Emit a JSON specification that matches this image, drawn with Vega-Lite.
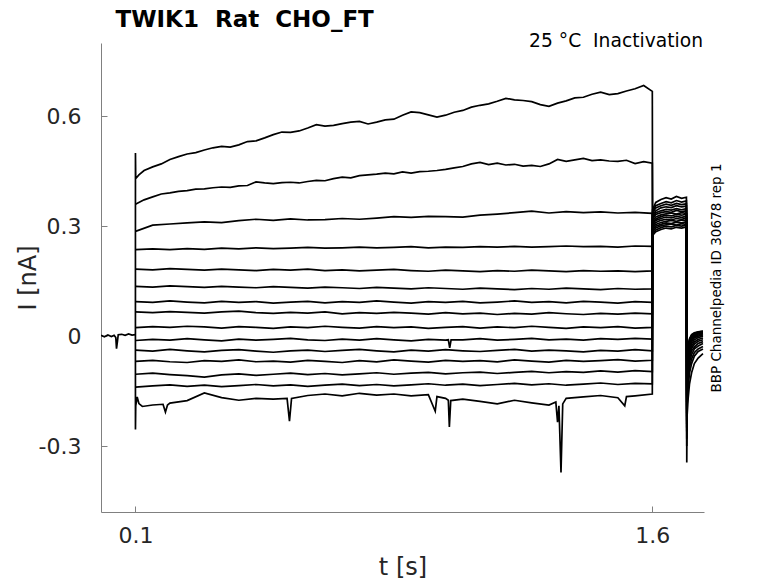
{
  "$schema": "https://vega.github.io/schema/vega-lite/v6.json",
  "width": 603,
  "height": 469,
  "autosize": "none",
  "padding": {"left": 101, "top": 43, "right": 74, "bottom": 71},
  "background": "white",
  "config": {
    "view": {"stroke": null},
    "font": "DejaVu Sans",
    "axis": {
      "grid": false,
      "domainColor": "#808080",
      "tickColor": "#808080",
      "labelColor": "#262626",
      "titleColor": "#262626",
      "labelFont": "DejaVu Sans",
      "titleFont": "DejaVu Sans",
      "titleFontWeight": "normal"
    }
  },
  "datasets": {
    "traces": [
      {"s":0,"t":0.0,"i":0.002},{"s":0,"t":0.01,"i":-0.002},{"s":0,"t":0.02,"i":0.003},{"s":0,"t":0.03,"i":-0.001},{"s":0,"t":0.038,"i":0.002},{"s":0,"t":0.043,"i":-0.004},{"s":0,"t":0.045,"i":-0.034},{"s":0,"t":0.048,"i":-0.012},{"s":0,"t":0.05,"i":0.004},{"s":0,"t":0.06,"i":0.005},{"s":0,"t":0.07,"i":0.002},{"s":0,"t":0.08,"i":0.006},{"s":0,"t":0.09,"i":0.003},{"s":0,"t":0.0999,"i":0.004},

      {"s":1,"t":0.0999,"i":0.003},{"s":1,"t":0.1,"i":0.5},{"s":1,"t":0.1008,"i":0.43},{"s":1,"t":0.11,"i":0.44},{"s":1,"t":0.125,"i":0.452},{"s":1,"t":0.15,"i":0.462},{"s":1,"t":0.175,"i":0.47},{"s":1,"t":0.2,"i":0.482},{"s":1,"t":0.225,"i":0.49},{"s":1,"t":0.25,"i":0.497},{"s":1,"t":0.275,"i":0.501},{"s":1,"t":0.3,"i":0.508},{"s":1,"t":0.325,"i":0.514},{"s":1,"t":0.35,"i":0.518},{"s":1,"t":0.375,"i":0.516},{"s":1,"t":0.4,"i":0.522},{"s":1,"t":0.425,"i":0.531},{"s":1,"t":0.45,"i":0.533},{"s":1,"t":0.475,"i":0.541},{"s":1,"t":0.5,"i":0.55},{"s":1,"t":0.525,"i":0.557},{"s":1,"t":0.55,"i":0.556},{"s":1,"t":0.575,"i":0.56},{"s":1,"t":0.6,"i":0.568},{"s":1,"t":0.625,"i":0.577},{"s":1,"t":0.65,"i":0.573},{"s":1,"t":0.675,"i":0.575},{"s":1,"t":0.7,"i":0.58},{"s":1,"t":0.725,"i":0.584},{"s":1,"t":0.75,"i":0.586},{"s":1,"t":0.775,"i":0.579},{"s":1,"t":0.8,"i":0.584},{"s":1,"t":0.825,"i":0.59},{"s":1,"t":0.85,"i":0.592},{"s":1,"t":0.875,"i":0.603},{"s":1,"t":0.9,"i":0.612},{"s":1,"t":0.925,"i":0.61},{"s":1,"t":0.95,"i":0.604},{"s":1,"t":0.975,"i":0.598},{"s":1,"t":1.0,"i":0.603},{"s":1,"t":1.025,"i":0.611},{"s":1,"t":1.05,"i":0.616},{"s":1,"t":1.075,"i":0.625},{"s":1,"t":1.1,"i":0.63},{"s":1,"t":1.125,"i":0.634},{"s":1,"t":1.15,"i":0.641},{"s":1,"t":1.175,"i":0.649},{"s":1,"t":1.2,"i":0.645},{"s":1,"t":1.225,"i":0.643},{"s":1,"t":1.25,"i":0.64},{"s":1,"t":1.275,"i":0.632},{"s":1,"t":1.3,"i":0.627},{"s":1,"t":1.325,"i":0.636},{"s":1,"t":1.35,"i":0.642},{"s":1,"t":1.375,"i":0.65},{"s":1,"t":1.4,"i":0.652},{"s":1,"t":1.425,"i":0.66},{"s":1,"t":1.45,"i":0.666},{"s":1,"t":1.475,"i":0.659},{"s":1,"t":1.5,"i":0.662},{"s":1,"t":1.525,"i":0.669},{"s":1,"t":1.55,"i":0.675},{"s":1,"t":1.575,"i":0.684},{"s":1,"t":1.6,"i":0.668},
      {"s":1,"t":1.6008,"i":0.275},{"s":1,"t":1.61,"i":0.285},{"s":1,"t":1.625,"i":0.291},{"s":1,"t":1.64,"i":0.295},{"s":1,"t":1.655,"i":0.293},{"s":1,"t":1.67,"i":0.297},{"s":1,"t":1.685,"i":0.295},{"s":1,"t":1.699,"i":0.298},
      {"s":1,"t":1.7,"i":-0.15},{"s":1,"t":1.7008,"i":-0.065},{"s":1,"t":1.704,"i":-0.028},{"s":1,"t":1.708,"i":-0.007},{"s":1,"t":1.714,"i":0.004},{"s":1,"t":1.722,"i":0.009},{"s":1,"t":1.733,"i":0.012},{"s":1,"t":1.747,"i":0.014},

      {"s":2,"t":0.1,"i":0.36},{"s":2,"t":0.125,"i":0.372},{"s":2,"t":0.15,"i":0.38},{"s":2,"t":0.175,"i":0.388},{"s":2,"t":0.2,"i":0.391},{"s":2,"t":0.225,"i":0.395},{"s":2,"t":0.25,"i":0.397},{"s":2,"t":0.275,"i":0.401},{"s":2,"t":0.3,"i":0.402},{"s":2,"t":0.325,"i":0.405},{"s":2,"t":0.35,"i":0.407},{"s":2,"t":0.375,"i":0.406},{"s":2,"t":0.4,"i":0.41},{"s":2,"t":0.425,"i":0.411},{"s":2,"t":0.45,"i":0.421},{"s":2,"t":0.475,"i":0.418},{"s":2,"t":0.5,"i":0.416},{"s":2,"t":0.525,"i":0.419},{"s":2,"t":0.55,"i":0.42},{"s":2,"t":0.575,"i":0.418},{"s":2,"t":0.6,"i":0.422},{"s":2,"t":0.625,"i":0.425},{"s":2,"t":0.65,"i":0.424},{"s":2,"t":0.675,"i":0.43},{"s":2,"t":0.7,"i":0.434},{"s":2,"t":0.725,"i":0.432},{"s":2,"t":0.75,"i":0.438},{"s":2,"t":0.775,"i":0.44},{"s":2,"t":0.8,"i":0.442},{"s":2,"t":0.825,"i":0.445},{"s":2,"t":0.85,"i":0.443},{"s":2,"t":0.875,"i":0.448},{"s":2,"t":0.9,"i":0.445},{"s":2,"t":0.925,"i":0.449},{"s":2,"t":0.95,"i":0.45},{"s":2,"t":0.975,"i":0.452},{"s":2,"t":1.0,"i":0.455},{"s":2,"t":1.025,"i":0.459},{"s":2,"t":1.05,"i":0.463},{"s":2,"t":1.075,"i":0.47},{"s":2,"t":1.1,"i":0.474},{"s":2,"t":1.125,"i":0.468},{"s":2,"t":1.15,"i":0.472},{"s":2,"t":1.175,"i":0.467},{"s":2,"t":1.2,"i":0.469},{"s":2,"t":1.225,"i":0.464},{"s":2,"t":1.25,"i":0.466},{"s":2,"t":1.275,"i":0.463},{"s":2,"t":1.3,"i":0.47},{"s":2,"t":1.325,"i":0.482},{"s":2,"t":1.35,"i":0.477},{"s":2,"t":1.375,"i":0.481},{"s":2,"t":1.4,"i":0.485},{"s":2,"t":1.425,"i":0.479},{"s":2,"t":1.45,"i":0.481},{"s":2,"t":1.475,"i":0.478},{"s":2,"t":1.5,"i":0.477},{"s":2,"t":1.525,"i":0.48},{"s":2,"t":1.55,"i":0.471},{"s":2,"t":1.575,"i":0.476},{"s":2,"t":1.6,"i":0.472},
      {"s":2,"t":1.6008,"i":0.28},{"s":2,"t":1.61,"i":0.29},{"s":2,"t":1.625,"i":0.296},{"s":2,"t":1.64,"i":0.3},{"s":2,"t":1.655,"i":0.298},{"s":2,"t":1.67,"i":0.302},{"s":2,"t":1.685,"i":0.3},{"s":2,"t":1.699,"i":0.303},
      {"s":2,"t":1.7,"i":-0.16},{"s":2,"t":1.7008,"i":-0.07},{"s":2,"t":1.704,"i":-0.03},{"s":2,"t":1.708,"i":-0.009},{"s":2,"t":1.714,"i":0.002},{"s":2,"t":1.722,"i":0.008},{"s":2,"t":1.733,"i":0.011},{"s":2,"t":1.747,"i":0.013},

      {"s":3,"t":0.1,"i":0.286},{"s":3,"t":0.15,"i":0.303},{"s":3,"t":0.2,"i":0.306},{"s":3,"t":0.25,"i":0.309},{"s":3,"t":0.3,"i":0.312},{"s":3,"t":0.35,"i":0.31},{"s":3,"t":0.4,"i":0.315},{"s":3,"t":0.45,"i":0.319},{"s":3,"t":0.5,"i":0.316},{"s":3,"t":0.55,"i":0.32},{"s":3,"t":0.6,"i":0.317},{"s":3,"t":0.65,"i":0.318},{"s":3,"t":0.7,"i":0.321},{"s":3,"t":0.75,"i":0.319},{"s":3,"t":0.8,"i":0.322},{"s":3,"t":0.85,"i":0.326},{"s":3,"t":0.9,"i":0.324},{"s":3,"t":0.95,"i":0.327},{"s":3,"t":1.0,"i":0.326},{"s":3,"t":1.05,"i":0.325},{"s":3,"t":1.1,"i":0.33},{"s":3,"t":1.15,"i":0.333},{"s":3,"t":1.2,"i":0.337},{"s":3,"t":1.25,"i":0.341},{"s":3,"t":1.3,"i":0.336},{"s":3,"t":1.35,"i":0.34},{"s":3,"t":1.4,"i":0.337},{"s":3,"t":1.45,"i":0.339},{"s":3,"t":1.5,"i":0.336},{"s":3,"t":1.55,"i":0.338},{"s":3,"t":1.6,"i":0.335},
      {"s":3,"t":1.6008,"i":0.285},{"s":3,"t":1.61,"i":0.295},{"s":3,"t":1.625,"i":0.301},{"s":3,"t":1.64,"i":0.304},{"s":3,"t":1.655,"i":0.306},{"s":3,"t":1.67,"i":0.303},{"s":3,"t":1.685,"i":0.307},{"s":3,"t":1.699,"i":0.305},
      {"s":3,"t":1.7,"i":-0.17},{"s":3,"t":1.7008,"i":-0.075},{"s":3,"t":1.704,"i":-0.032},{"s":3,"t":1.708,"i":-0.011},{"s":3,"t":1.714,"i":0.0},{"s":3,"t":1.722,"i":0.006},{"s":3,"t":1.733,"i":0.01},{"s":3,"t":1.747,"i":0.012},

      {"s":4,"t":0.1,"i":0.236},{"s":4,"t":0.15,"i":0.238},{"s":4,"t":0.2,"i":0.236},{"s":4,"t":0.25,"i":0.239},{"s":4,"t":0.3,"i":0.237},{"s":4,"t":0.35,"i":0.24},{"s":4,"t":0.4,"i":0.238},{"s":4,"t":0.45,"i":0.241},{"s":4,"t":0.5,"i":0.239},{"s":4,"t":0.55,"i":0.24},{"s":4,"t":0.6,"i":0.242},{"s":4,"t":0.65,"i":0.24},{"s":4,"t":0.7,"i":0.241},{"s":4,"t":0.75,"i":0.243},{"s":4,"t":0.8,"i":0.241},{"s":4,"t":0.85,"i":0.242},{"s":4,"t":0.9,"i":0.244},{"s":4,"t":0.95,"i":0.241},{"s":4,"t":1.0,"i":0.243},{"s":4,"t":1.05,"i":0.242},{"s":4,"t":1.1,"i":0.244},{"s":4,"t":1.15,"i":0.243},{"s":4,"t":1.2,"i":0.245},{"s":4,"t":1.25,"i":0.243},{"s":4,"t":1.3,"i":0.244},{"s":4,"t":1.35,"i":0.246},{"s":4,"t":1.4,"i":0.244},{"s":4,"t":1.45,"i":0.245},{"s":4,"t":1.5,"i":0.243},{"s":4,"t":1.55,"i":0.246},{"s":4,"t":1.6,"i":0.245},
      {"s":4,"t":1.6008,"i":0.29},{"s":4,"t":1.61,"i":0.3},{"s":4,"t":1.625,"i":0.305},{"s":4,"t":1.64,"i":0.309},{"s":4,"t":1.655,"i":0.307},{"s":4,"t":1.67,"i":0.311},{"s":4,"t":1.685,"i":0.309},{"s":4,"t":1.699,"i":0.312},
      {"s":4,"t":1.7,"i":-0.18},{"s":4,"t":1.7008,"i":-0.08},{"s":4,"t":1.704,"i":-0.036},{"s":4,"t":1.708,"i":-0.014},{"s":4,"t":1.714,"i":-0.003},{"s":4,"t":1.722,"i":0.004},{"s":4,"t":1.733,"i":0.008},{"s":4,"t":1.747,"i":0.01},

      {"s":5,"t":0.1,"i":0.183},{"s":5,"t":0.15,"i":0.181},{"s":5,"t":0.2,"i":0.184},{"s":5,"t":0.25,"i":0.182},{"s":5,"t":0.3,"i":0.18},{"s":5,"t":0.35,"i":0.183},{"s":5,"t":0.4,"i":0.181},{"s":5,"t":0.45,"i":0.179},{"s":5,"t":0.5,"i":0.182},{"s":5,"t":0.55,"i":0.18},{"s":5,"t":0.6,"i":0.183},{"s":5,"t":0.65,"i":0.179},{"s":5,"t":0.7,"i":0.181},{"s":5,"t":0.75,"i":0.178},{"s":5,"t":0.8,"i":0.18},{"s":5,"t":0.85,"i":0.182},{"s":5,"t":0.9,"i":0.179},{"s":5,"t":0.95,"i":0.177},{"s":5,"t":1.0,"i":0.18},{"s":5,"t":1.05,"i":0.178},{"s":5,"t":1.1,"i":0.176},{"s":5,"t":1.15,"i":0.179},{"s":5,"t":1.2,"i":0.177},{"s":5,"t":1.25,"i":0.18},{"s":5,"t":1.3,"i":0.178},{"s":5,"t":1.35,"i":0.176},{"s":5,"t":1.4,"i":0.179},{"s":5,"t":1.45,"i":0.177},{"s":5,"t":1.5,"i":0.178},{"s":5,"t":1.55,"i":0.176},{"s":5,"t":1.6,"i":0.178},
      {"s":5,"t":1.6008,"i":0.295},{"s":5,"t":1.61,"i":0.305},{"s":5,"t":1.625,"i":0.31},{"s":5,"t":1.64,"i":0.313},{"s":5,"t":1.655,"i":0.316},{"s":5,"t":1.67,"i":0.313},{"s":5,"t":1.685,"i":0.317},{"s":5,"t":1.699,"i":0.315},
      {"s":5,"t":1.7,"i":-0.19},{"s":5,"t":1.7008,"i":-0.085},{"s":5,"t":1.704,"i":-0.04},{"s":5,"t":1.708,"i":-0.018},{"s":5,"t":1.714,"i":-0.006},{"s":5,"t":1.722,"i":0.001},{"s":5,"t":1.733,"i":0.006},{"s":5,"t":1.747,"i":0.008},

      {"s":6,"t":0.1,"i":0.136},{"s":6,"t":0.15,"i":0.134},{"s":6,"t":0.2,"i":0.137},{"s":6,"t":0.25,"i":0.135},{"s":6,"t":0.3,"i":0.133},{"s":6,"t":0.35,"i":0.136},{"s":6,"t":0.4,"i":0.134},{"s":6,"t":0.45,"i":0.132},{"s":6,"t":0.5,"i":0.135},{"s":6,"t":0.55,"i":0.133},{"s":6,"t":0.6,"i":0.131},{"s":6,"t":0.65,"i":0.134},{"s":6,"t":0.7,"i":0.132},{"s":6,"t":0.75,"i":0.13},{"s":6,"t":0.8,"i":0.133},{"s":6,"t":0.85,"i":0.131},{"s":6,"t":0.9,"i":0.129},{"s":6,"t":0.95,"i":0.132},{"s":6,"t":1.0,"i":0.13},{"s":6,"t":1.05,"i":0.128},{"s":6,"t":1.1,"i":0.131},{"s":6,"t":1.15,"i":0.129},{"s":6,"t":1.2,"i":0.127},{"s":6,"t":1.25,"i":0.13},{"s":6,"t":1.3,"i":0.128},{"s":6,"t":1.35,"i":0.131},{"s":6,"t":1.4,"i":0.129},{"s":6,"t":1.45,"i":0.127},{"s":6,"t":1.5,"i":0.13},{"s":6,"t":1.55,"i":0.128},{"s":6,"t":1.6,"i":0.129},
      {"s":6,"t":1.6008,"i":0.3},{"s":6,"t":1.61,"i":0.31},{"s":6,"t":1.625,"i":0.316},{"s":6,"t":1.64,"i":0.319},{"s":6,"t":1.655,"i":0.317},{"s":6,"t":1.67,"i":0.321},{"s":6,"t":1.685,"i":0.319},{"s":6,"t":1.699,"i":0.322},
      {"s":6,"t":1.7,"i":-0.2},{"s":6,"t":1.7008,"i":-0.09},{"s":6,"t":1.704,"i":-0.045},{"s":6,"t":1.708,"i":-0.022},{"s":6,"t":1.714,"i":-0.01},{"s":6,"t":1.722,"i":-0.002},{"s":6,"t":1.733,"i":0.003},{"s":6,"t":1.747,"i":0.006},

      {"s":7,"t":0.1,"i":0.094},{"s":7,"t":0.15,"i":0.092},{"s":7,"t":0.2,"i":0.096},{"s":7,"t":0.25,"i":0.093},{"s":7,"t":0.3,"i":0.091},{"s":7,"t":0.35,"i":0.095},{"s":7,"t":0.4,"i":0.092},{"s":7,"t":0.45,"i":0.094},{"s":7,"t":0.5,"i":0.09},{"s":7,"t":0.55,"i":0.093},{"s":7,"t":0.6,"i":0.095},{"s":7,"t":0.65,"i":0.091},{"s":7,"t":0.7,"i":0.094},{"s":7,"t":0.75,"i":0.092},{"s":7,"t":0.8,"i":0.096},{"s":7,"t":0.85,"i":0.093},{"s":7,"t":0.9,"i":0.09},{"s":7,"t":0.95,"i":0.094},{"s":7,"t":1.0,"i":0.092},{"s":7,"t":1.05,"i":0.095},{"s":7,"t":1.1,"i":0.091},{"s":7,"t":1.15,"i":0.093},{"s":7,"t":1.2,"i":0.096},{"s":7,"t":1.25,"i":0.092},{"s":7,"t":1.3,"i":0.094},{"s":7,"t":1.35,"i":0.091},{"s":7,"t":1.4,"i":0.095},{"s":7,"t":1.45,"i":0.093},{"s":7,"t":1.5,"i":0.09},{"s":7,"t":1.55,"i":0.094},{"s":7,"t":1.6,"i":0.092},
      {"s":7,"t":1.6008,"i":0.305},{"s":7,"t":1.61,"i":0.316},{"s":7,"t":1.625,"i":0.321},{"s":7,"t":1.64,"i":0.325},{"s":7,"t":1.655,"i":0.323},{"s":7,"t":1.67,"i":0.327},{"s":7,"t":1.685,"i":0.324},{"s":7,"t":1.699,"i":0.327},
      {"s":7,"t":1.7,"i":-0.21},{"s":7,"t":1.7008,"i":-0.1},{"s":7,"t":1.704,"i":-0.052},{"s":7,"t":1.708,"i":-0.028},{"s":7,"t":1.714,"i":-0.014},{"s":7,"t":1.722,"i":-0.005},{"s":7,"t":1.733,"i":0.0},{"s":7,"t":1.747,"i":0.003},

      {"s":8,"t":0.1,"i":0.066},{"s":8,"t":0.15,"i":0.064},{"s":8,"t":0.2,"i":0.067},{"s":8,"t":0.25,"i":0.065},{"s":8,"t":0.3,"i":0.063},{"s":8,"t":0.35,"i":0.066},{"s":8,"t":0.4,"i":0.068},{"s":8,"t":0.45,"i":0.064},{"s":8,"t":0.5,"i":0.062},{"s":8,"t":0.55,"i":0.065},{"s":8,"t":0.6,"i":0.063},{"s":8,"t":0.65,"i":0.066},{"s":8,"t":0.7,"i":0.061},{"s":8,"t":0.75,"i":0.064},{"s":8,"t":0.8,"i":0.062},{"s":8,"t":0.85,"i":0.065},{"s":8,"t":0.9,"i":0.063},{"s":8,"t":0.95,"i":0.06},{"s":8,"t":1.0,"i":0.064},{"s":8,"t":1.05,"i":0.061},{"s":8,"t":1.1,"i":0.063},{"s":8,"t":1.15,"i":0.059},{"s":8,"t":1.2,"i":0.062},{"s":8,"t":1.25,"i":0.06},{"s":8,"t":1.3,"i":0.064},{"s":8,"t":1.35,"i":0.061},{"s":8,"t":1.4,"i":0.059},{"s":8,"t":1.45,"i":0.062},{"s":8,"t":1.5,"i":0.06},{"s":8,"t":1.55,"i":0.063},{"s":8,"t":1.6,"i":0.061},
      {"s":8,"t":1.6008,"i":0.31},{"s":8,"t":1.61,"i":0.32},{"s":8,"t":1.625,"i":0.326},{"s":8,"t":1.64,"i":0.33},{"s":8,"t":1.655,"i":0.328},{"s":8,"t":1.67,"i":0.332},{"s":8,"t":1.685,"i":0.33},{"s":8,"t":1.699,"i":0.333},
      {"s":8,"t":1.7,"i":-0.22},{"s":8,"t":1.7008,"i":-0.11},{"s":8,"t":1.704,"i":-0.06},{"s":8,"t":1.708,"i":-0.035},{"s":8,"t":1.714,"i":-0.02},{"s":8,"t":1.722,"i":-0.01},{"s":8,"t":1.733,"i":-0.004},{"s":8,"t":1.747,"i":0.0},

      {"s":9,"t":0.1,"i":0.023},{"s":9,"t":0.15,"i":0.026},{"s":9,"t":0.2,"i":0.024},{"s":9,"t":0.25,"i":0.027},{"s":9,"t":0.3,"i":0.025},{"s":9,"t":0.35,"i":0.022},{"s":9,"t":0.4,"i":0.026},{"s":9,"t":0.45,"i":0.024},{"s":9,"t":0.5,"i":0.021},{"s":9,"t":0.55,"i":0.025},{"s":9,"t":0.6,"i":0.023},{"s":9,"t":0.65,"i":0.027},{"s":9,"t":0.7,"i":0.024},{"s":9,"t":0.75,"i":0.022},{"s":9,"t":0.8,"i":0.026},{"s":9,"t":0.85,"i":0.023},{"s":9,"t":0.9,"i":0.025},{"s":9,"t":0.95,"i":0.021},{"s":9,"t":1.0,"i":0.024},{"s":9,"t":1.05,"i":0.026},{"s":9,"t":1.1,"i":0.022},{"s":9,"t":1.15,"i":0.025},{"s":9,"t":1.2,"i":0.023},{"s":9,"t":1.25,"i":0.027},{"s":9,"t":1.3,"i":0.024},{"s":9,"t":1.35,"i":0.021},{"s":9,"t":1.4,"i":0.025},{"s":9,"t":1.45,"i":0.023},{"s":9,"t":1.5,"i":0.026},{"s":9,"t":1.55,"i":0.022},{"s":9,"t":1.6,"i":0.024},
      {"s":9,"t":1.6008,"i":0.315},{"s":9,"t":1.61,"i":0.325},{"s":9,"t":1.625,"i":0.331},{"s":9,"t":1.64,"i":0.334},{"s":9,"t":1.655,"i":0.336},{"s":9,"t":1.67,"i":0.333},{"s":9,"t":1.685,"i":0.337},{"s":9,"t":1.699,"i":0.335},
      {"s":9,"t":1.7,"i":-0.23},{"s":9,"t":1.7008,"i":-0.12},{"s":9,"t":1.704,"i":-0.07},{"s":9,"t":1.708,"i":-0.042},{"s":9,"t":1.714,"i":-0.027},{"s":9,"t":1.722,"i":-0.016},{"s":9,"t":1.733,"i":-0.009},{"s":9,"t":1.747,"i":-0.005},

      {"s":10,"t":0.1,"i":-0.012},{"s":10,"t":0.15,"i":-0.009},{"s":10,"t":0.2,"i":-0.011},{"s":10,"t":0.25,"i":-0.007},{"s":10,"t":0.3,"i":-0.01},{"s":10,"t":0.35,"i":-0.013},{"s":10,"t":0.4,"i":-0.008},{"s":10,"t":0.45,"i":-0.011},{"s":10,"t":0.5,"i":-0.009},{"s":10,"t":0.55,"i":-0.006},{"s":10,"t":0.6,"i":-0.01},{"s":10,"t":0.65,"i":-0.012},{"s":10,"t":0.7,"i":-0.008},{"s":10,"t":0.75,"i":-0.011},{"s":10,"t":0.8,"i":-0.007},{"s":10,"t":0.85,"i":-0.01},{"s":10,"t":0.9,"i":-0.013},{"s":10,"t":0.95,"i":-0.009},{"s":10,"t":1.0,"i":-0.011},{"s":10,"t":1.008,"i":-0.01},{"s":10,"t":1.012,"i":-0.032},{"s":10,"t":1.016,"i":-0.01},{"s":10,"t":1.05,"i":-0.01},{"s":10,"t":1.1,"i":-0.007},{"s":10,"t":1.15,"i":-0.011},{"s":10,"t":1.2,"i":-0.009},{"s":10,"t":1.25,"i":-0.006},{"s":10,"t":1.3,"i":-0.01},{"s":10,"t":1.35,"i":-0.008},{"s":10,"t":1.4,"i":-0.011},{"s":10,"t":1.45,"i":-0.007},{"s":10,"t":1.5,"i":-0.009},{"s":10,"t":1.55,"i":-0.006},{"s":10,"t":1.6,"i":-0.008},
      {"s":10,"t":1.6008,"i":0.32},{"s":10,"t":1.61,"i":0.332},{"s":10,"t":1.625,"i":0.337},{"s":10,"t":1.64,"i":0.34},{"s":10,"t":1.655,"i":0.338},{"s":10,"t":1.67,"i":0.343},{"s":10,"t":1.685,"i":0.34},{"s":10,"t":1.699,"i":0.342},
      {"s":10,"t":1.7,"i":-0.24},{"s":10,"t":1.7008,"i":-0.13},{"s":10,"t":1.704,"i":-0.08},{"s":10,"t":1.708,"i":-0.05},{"s":10,"t":1.714,"i":-0.033},{"s":10,"t":1.722,"i":-0.022},{"s":10,"t":1.733,"i":-0.014},{"s":10,"t":1.747,"i":-0.01},

      {"s":11,"t":0.1,"i":-0.038},{"s":11,"t":0.15,"i":-0.041},{"s":11,"t":0.2,"i":-0.036},{"s":11,"t":0.25,"i":-0.04},{"s":11,"t":0.3,"i":-0.043},{"s":11,"t":0.35,"i":-0.039},{"s":11,"t":0.4,"i":-0.037},{"s":11,"t":0.45,"i":-0.041},{"s":11,"t":0.5,"i":-0.044},{"s":11,"t":0.55,"i":-0.04},{"s":11,"t":0.6,"i":-0.038},{"s":11,"t":0.65,"i":-0.042},{"s":11,"t":0.7,"i":-0.039},{"s":11,"t":0.75,"i":-0.036},{"s":11,"t":0.8,"i":-0.04},{"s":11,"t":0.85,"i":-0.043},{"s":11,"t":0.9,"i":-0.038},{"s":11,"t":0.95,"i":-0.041},{"s":11,"t":1.0,"i":-0.037},{"s":11,"t":1.05,"i":-0.04},{"s":11,"t":1.1,"i":-0.042},{"s":11,"t":1.15,"i":-0.039},{"s":11,"t":1.2,"i":-0.036},{"s":11,"t":1.25,"i":-0.041},{"s":11,"t":1.3,"i":-0.038},{"s":11,"t":1.35,"i":-0.04},{"s":11,"t":1.4,"i":-0.043},{"s":11,"t":1.45,"i":-0.039},{"s":11,"t":1.5,"i":-0.041},{"s":11,"t":1.55,"i":-0.037},{"s":11,"t":1.6,"i":-0.04},
      {"s":11,"t":1.6008,"i":0.325},{"s":11,"t":1.61,"i":0.337},{"s":11,"t":1.625,"i":0.342},{"s":11,"t":1.64,"i":0.346},{"s":11,"t":1.655,"i":0.344},{"s":11,"t":1.67,"i":0.348},{"s":11,"t":1.685,"i":0.345},{"s":11,"t":1.699,"i":0.348},
      {"s":11,"t":1.7,"i":-0.25},{"s":11,"t":1.7008,"i":-0.14},{"s":11,"t":1.704,"i":-0.09},{"s":11,"t":1.708,"i":-0.06},{"s":11,"t":1.714,"i":-0.04},{"s":11,"t":1.722,"i":-0.03},{"s":11,"t":1.733,"i":-0.02},{"s":11,"t":1.747,"i":-0.015},

      {"s":12,"t":0.1,"i":-0.069},{"s":12,"t":0.15,"i":-0.066},{"s":12,"t":0.2,"i":-0.07},{"s":12,"t":0.25,"i":-0.072},{"s":12,"t":0.3,"i":-0.067},{"s":12,"t":0.35,"i":-0.069},{"s":12,"t":0.4,"i":-0.065},{"s":12,"t":0.45,"i":-0.07},{"s":12,"t":0.5,"i":-0.068},{"s":12,"t":0.55,"i":-0.071},{"s":12,"t":0.6,"i":-0.066},{"s":12,"t":0.65,"i":-0.069},{"s":12,"t":0.7,"i":-0.072},{"s":12,"t":0.75,"i":-0.067},{"s":12,"t":0.8,"i":-0.07},{"s":12,"t":0.85,"i":-0.065},{"s":12,"t":0.9,"i":-0.068},{"s":12,"t":0.95,"i":-0.071},{"s":12,"t":1.0,"i":-0.066},{"s":12,"t":1.05,"i":-0.069},{"s":12,"t":1.1,"i":-0.067},{"s":12,"t":1.15,"i":-0.07},{"s":12,"t":1.2,"i":-0.065},{"s":12,"t":1.25,"i":-0.068},{"s":12,"t":1.3,"i":-0.071},{"s":12,"t":1.35,"i":-0.066},{"s":12,"t":1.4,"i":-0.069},{"s":12,"t":1.45,"i":-0.067},{"s":12,"t":1.5,"i":-0.064},{"s":12,"t":1.55,"i":-0.068},{"s":12,"t":1.6,"i":-0.066},
      {"s":12,"t":1.6008,"i":0.33},{"s":12,"t":1.61,"i":0.342},{"s":12,"t":1.625,"i":0.35},{"s":12,"t":1.64,"i":0.353},{"s":12,"t":1.655,"i":0.351},{"s":12,"t":1.67,"i":0.356},{"s":12,"t":1.685,"i":0.353},{"s":12,"t":1.699,"i":0.355},
      {"s":12,"t":1.7,"i":-0.26},{"s":12,"t":1.7008,"i":-0.15},{"s":12,"t":1.704,"i":-0.1},{"s":12,"t":1.708,"i":-0.07},{"s":12,"t":1.714,"i":-0.05},{"s":12,"t":1.722,"i":-0.035},{"s":12,"t":1.733,"i":-0.027},{"s":12,"t":1.747,"i":-0.02},

      {"s":13,"t":0.1,"i":-0.104},{"s":13,"t":0.15,"i":-0.101},{"s":13,"t":0.2,"i":-0.105},{"s":13,"t":0.25,"i":-0.108},{"s":13,"t":0.3,"i":-0.112},{"s":13,"t":0.35,"i":-0.106},{"s":13,"t":0.4,"i":-0.103},{"s":13,"t":0.45,"i":-0.107},{"s":13,"t":0.5,"i":-0.104},{"s":13,"t":0.55,"i":-0.101},{"s":13,"t":0.6,"i":-0.105},{"s":13,"t":0.65,"i":-0.102},{"s":13,"t":0.7,"i":-0.106},{"s":13,"t":0.75,"i":-0.103},{"s":13,"t":0.8,"i":-0.1},{"s":13,"t":0.85,"i":-0.104},{"s":13,"t":0.9,"i":-0.101},{"s":13,"t":0.95,"i":-0.099},{"s":13,"t":1.0,"i":-0.103},{"s":13,"t":1.05,"i":-0.1},{"s":13,"t":1.1,"i":-0.098},{"s":13,"t":1.15,"i":-0.102},{"s":13,"t":1.2,"i":-0.099},{"s":13,"t":1.25,"i":-0.096},{"s":13,"t":1.3,"i":-0.1},{"s":13,"t":1.35,"i":-0.097},{"s":13,"t":1.4,"i":-0.099},{"s":13,"t":1.45,"i":-0.095},{"s":13,"t":1.5,"i":-0.098},{"s":13,"t":1.55,"i":-0.094},{"s":13,"t":1.6,"i":-0.097},
      {"s":13,"t":1.6008,"i":0.335},{"s":13,"t":1.61,"i":0.35},{"s":13,"t":1.625,"i":0.356},{"s":13,"t":1.64,"i":0.36},{"s":13,"t":1.655,"i":0.357},{"s":13,"t":1.67,"i":0.362},{"s":13,"t":1.685,"i":0.359},{"s":13,"t":1.699,"i":0.361},
      {"s":13,"t":1.7,"i":-0.28},{"s":13,"t":1.7008,"i":-0.17},{"s":13,"t":1.704,"i":-0.12},{"s":13,"t":1.708,"i":-0.085},{"s":13,"t":1.714,"i":-0.062},{"s":13,"t":1.722,"i":-0.045},{"s":13,"t":1.733,"i":-0.035},{"s":13,"t":1.747,"i":-0.028},

      {"s":14,"t":0.1,"i":-0.139},{"s":14,"t":0.15,"i":-0.136},{"s":14,"t":0.2,"i":-0.133},{"s":14,"t":0.25,"i":-0.137},{"s":14,"t":0.3,"i":-0.134},{"s":14,"t":0.35,"i":-0.138},{"s":14,"t":0.4,"i":-0.135},{"s":14,"t":0.45,"i":-0.132},{"s":14,"t":0.5,"i":-0.136},{"s":14,"t":0.55,"i":-0.133},{"s":14,"t":0.6,"i":-0.137},{"s":14,"t":0.65,"i":-0.134},{"s":14,"t":0.7,"i":-0.131},{"s":14,"t":0.75,"i":-0.135},{"s":14,"t":0.8,"i":-0.132},{"s":14,"t":0.85,"i":-0.136},{"s":14,"t":0.9,"i":-0.133},{"s":14,"t":0.95,"i":-0.13},{"s":14,"t":1.0,"i":-0.134},{"s":14,"t":1.05,"i":-0.131},{"s":14,"t":1.1,"i":-0.135},{"s":14,"t":1.15,"i":-0.132},{"s":14,"t":1.2,"i":-0.129},{"s":14,"t":1.25,"i":-0.133},{"s":14,"t":1.3,"i":-0.13},{"s":14,"t":1.35,"i":-0.134},{"s":14,"t":1.4,"i":-0.131},{"s":14,"t":1.45,"i":-0.128},{"s":14,"t":1.5,"i":-0.132},{"s":14,"t":1.55,"i":-0.129},{"s":14,"t":1.6,"i":-0.13},
      {"s":14,"t":1.6008,"i":0.34},{"s":14,"t":1.61,"i":0.356},{"s":14,"t":1.625,"i":0.362},{"s":14,"t":1.64,"i":0.367},{"s":14,"t":1.655,"i":0.364},{"s":14,"t":1.67,"i":0.37},{"s":14,"t":1.685,"i":0.366},{"s":14,"t":1.699,"i":0.369},
      {"s":14,"t":1.7,"i":-0.3},{"s":14,"t":1.7008,"i":-0.19},{"s":14,"t":1.704,"i":-0.14},{"s":14,"t":1.708,"i":-0.1},{"s":14,"t":1.714,"i":-0.075},{"s":14,"t":1.722,"i":-0.055},{"s":14,"t":1.733,"i":-0.042},{"s":14,"t":1.747,"i":-0.035},

      {"s":15,"t":0.0999,"i":0.003},{"s":15,"t":0.1,"i":-0.255},{"s":15,"t":0.1008,"i":-0.19},{"s":15,"t":0.105,"i":-0.166},{"s":15,"t":0.11,"i":-0.184},{"s":15,"t":0.12,"i":-0.192},{"s":15,"t":0.15,"i":-0.188},{"s":15,"t":0.18,"i":-0.186},{"s":15,"t":0.187,"i":-0.207},{"s":15,"t":0.193,"i":-0.188},{"s":15,"t":0.2,"i":-0.183},{"s":15,"t":0.25,"i":-0.176},{"s":15,"t":0.3,"i":-0.155},{"s":15,"t":0.35,"i":-0.168},{"s":15,"t":0.4,"i":-0.175},{"s":15,"t":0.45,"i":-0.17},{"s":15,"t":0.5,"i":-0.172},{"s":15,"t":0.54,"i":-0.17},{"s":15,"t":0.547,"i":-0.232},{"s":15,"t":0.553,"i":-0.17},{"s":15,"t":0.6,"i":-0.162},{"s":15,"t":0.65,"i":-0.158},{"s":15,"t":0.7,"i":-0.163},{"s":15,"t":0.75,"i":-0.156},{"s":15,"t":0.8,"i":-0.161},{"s":15,"t":0.85,"i":-0.158},{"s":15,"t":0.9,"i":-0.163},{"s":15,"t":0.95,"i":-0.16},{"s":15,"t":0.97,"i":-0.205},{"s":15,"t":0.975,"i":-0.165},{"s":15,"t":1.0,"i":-0.17},{"s":15,"t":1.008,"i":-0.175},{"s":15,"t":1.011,"i":-0.248},{"s":15,"t":1.015,"i":-0.176},{"s":15,"t":1.05,"i":-0.172},{"s":15,"t":1.1,"i":-0.178},{"s":15,"t":1.15,"i":-0.185},{"s":15,"t":1.2,"i":-0.175},{"s":15,"t":1.25,"i":-0.182},{"s":15,"t":1.3,"i":-0.188},{"s":15,"t":1.32,"i":-0.18},{"s":15,"t":1.325,"i":-0.235},{"s":15,"t":1.329,"i":-0.19},{"s":15,"t":1.335,"i":-0.372},{"s":15,"t":1.34,"i":-0.185},{"s":15,"t":1.35,"i":-0.17},{"s":15,"t":1.4,"i":-0.166},{"s":15,"t":1.45,"i":-0.162},{"s":15,"t":1.5,"i":-0.168},{"s":15,"t":1.52,"i":-0.19},{"s":15,"t":1.525,"i":-0.165},{"s":15,"t":1.55,"i":-0.163},{"s":15,"t":1.6,"i":-0.158},
      {"s":15,"t":1.6008,"i":0.345},{"s":15,"t":1.61,"i":0.365},{"s":15,"t":1.625,"i":0.373},{"s":15,"t":1.64,"i":0.378},{"s":15,"t":1.655,"i":0.374},{"s":15,"t":1.67,"i":0.381},{"s":15,"t":1.685,"i":0.376},{"s":15,"t":1.699,"i":0.379},
      {"s":15,"t":1.7,"i":-0.345},{"s":15,"t":1.7008,"i":-0.22},{"s":15,"t":1.704,"i":-0.17},{"s":15,"t":1.708,"i":-0.13},{"s":15,"t":1.714,"i":-0.1},{"s":15,"t":1.722,"i":-0.075},{"s":15,"t":1.733,"i":-0.06},{"s":15,"t":1.747,"i":-0.048}
    ],
    "notes": [
      {"t": 1.75, "i": 0.8, "label": "25 °C \u00a0Inactivation"}
    ]
  },
  "resolve": {"axis": {"x": "independent", "y": "independent"}},
  "layer": [
    {
      "data": {"name": "traces"},
      "mark": {"type": "line", "color": "black", "strokeWidth": 1.7, "clip": true},
      "encoding": {
        "x": {
          "field": "t",
          "type": "quantitative",
          "scale": {"domain": [0, 1.75], "nice": false, "zero": false},
          "axis": {
            "orient": "bottom",
            "title": "t [s]",
            "values": [0.1, 1.6],
            "format": ".1f",
            "tickSize": -6,
            "labelPadding": 19,
            "labelFontSize": 22,
            "titleFontSize": 24,
            "titlePadding": 9
          }
        },
        "y": {
          "field": "i",
          "type": "quantitative",
          "scale": {"domain": [-0.48, 0.8], "nice": false, "zero": false},
          "axis": {
            "orient": "left",
            "title": "I [nA]",
            "values": [-0.3, 0, 0.3, 0.6],
            "labelExpr": "replace(format(datum.value, '~g'), '\u2212', '-')",
            "tickSize": -6,
            "labelPadding": 26,
            "labelFontSize": 22,
            "titleFontSize": 24,
            "titlePadding": -2
          }
        },
        "detail": {"field": "s", "type": "nominal"}
      }
    },
    {
      "data": {"name": "notes"},
      "mark": {"type": "text", "align": "right", "baseline": "alphabetic", "fontSize": 18.7, "dx": -1, "dy": 4, "color": "#000000"},
      "encoding": {
        "x": {
          "field": "t",
          "type": "quantitative",
          "axis": {
            "orient": "top",
            "title": "TWIK1 \u00a0Rat \u00a0CHO_FT",
            "titleFontSize": 23,
            "titleFontWeight": "bold",
            "titleColor": "#000000",
            "titleAnchor": "start",
            "titleAlign": "left",
            "titleBaseline": "alphabetic",
            "titleX": 14,
            "titleY": -17,
            "labels": false,
            "ticks": false,
            "domain": false
          }
        },
        "y": {
          "field": "i",
          "type": "quantitative",
          "axis": {
            "orient": "right",
            "title": "BBP Channelpedia ID 30678 rep 1",
            "titleAngle": 270,
            "titleBaseline": "middle",
            "titleFontSize": 13.5,
            "titleColor": "#000000",
            "titlePadding": 12,
            "labels": false,
            "ticks": false,
            "domain": false
          }
        },
        "text": {"field": "label"}
      }
    }
  ]
}
